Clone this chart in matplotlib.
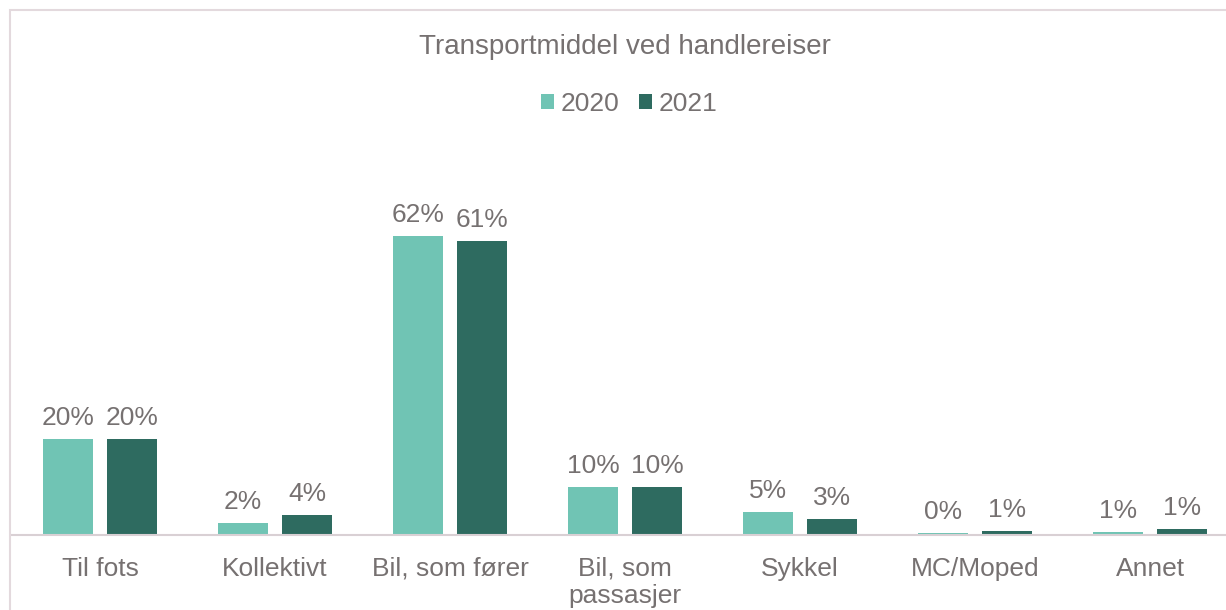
import matplotlib.pyplot as plt
from matplotlib.patches import Patch, Rectangle

# Andel handlereiser etter transportmiddel (prosent)
kategorier = ['Til fots', 'Kollektivt', 'Bil, som fører', 'Bil, som\npassasjer',
              'Sykkel', 'MC/Moped', 'Annet']
aar = ['2020', '2021']
verdier_2020 = [20, 2.4, 62, 10, 4.8, 0.4, 0.6]
verdier_2021 = [20, 4.2, 61, 10, 3.3, 0.8, 1.2]

farger = ['#70c4b4', '#2e6b60']
tekstfarge = '#767171'
kantfarge = '#e3d9dd'

plt.rcParams['font.family'] = ['Liberation Sans', 'DejaVu Sans']

W, H = 1226, 610
fig = plt.figure(figsize=(W / 100, H / 100), dpi=100)

# ramme rundt diagrammet
fig.patches.append(Rectangle((10 / W, -0.1), 1.2, (H - 10) / H + 0.1,
                             transform=fig.transFigure, fill=False,
                             edgecolor=kantfarge, linewidth=1.5))

ax = fig.add_axes([12 / W, (H - 535) / H, (W - 12) / W, 395 / H])

x = list(range(len(kategorier)))
bredde = 50 / 175
avstand = 64 / 175
for i, (verdier, navn) in enumerate(zip([verdier_2020, verdier_2021], aar)):
    pos = [xi + (i - 0.5) * avstand for xi in x]
    stolper = ax.bar(pos, verdier, width=bredde, color=farger[i], label=navn)
    ax.bar_label(stolper, fmt='%.0f%%', padding=6.5, fontsize=19, color=tekstfarge)

ax.set_xlim(-0.503, 6.434)
ax.set_ylim(0, 82)
ax.set_xticks(x)
ax.set_xticklabels(kategorier, fontsize=19, color=tekstfarge)
ax.tick_params(axis='x', length=0, pad=15.5)
ax.set_yticks([])
for side in ['top', 'right', 'left']:
    ax.spines[side].set_visible(False)
ax.spines['bottom'].set_color('#d9d0d4')
ax.spines['bottom'].set_linewidth(1.5)

fig.text(625 / W, 1 - 47 / H, 'Transportmiddel ved handlereiser',
         ha='center', va='center', fontsize=20, color=tekstfarge)

handles = [Patch(facecolor=f, edgecolor='none') for f in farger]
fig.legend(handles, aar, loc='center', bbox_to_anchor=(629 / W, 1 - 104 / H),
           ncol=2, frameon=False, fontsize=19, labelcolor=tekstfarge,
           handlelength=0.5, handleheight=0.5, handletextpad=0.25,
           columnspacing=0.75)

fig.savefig('out.png', dpi=100, facecolor='white')
